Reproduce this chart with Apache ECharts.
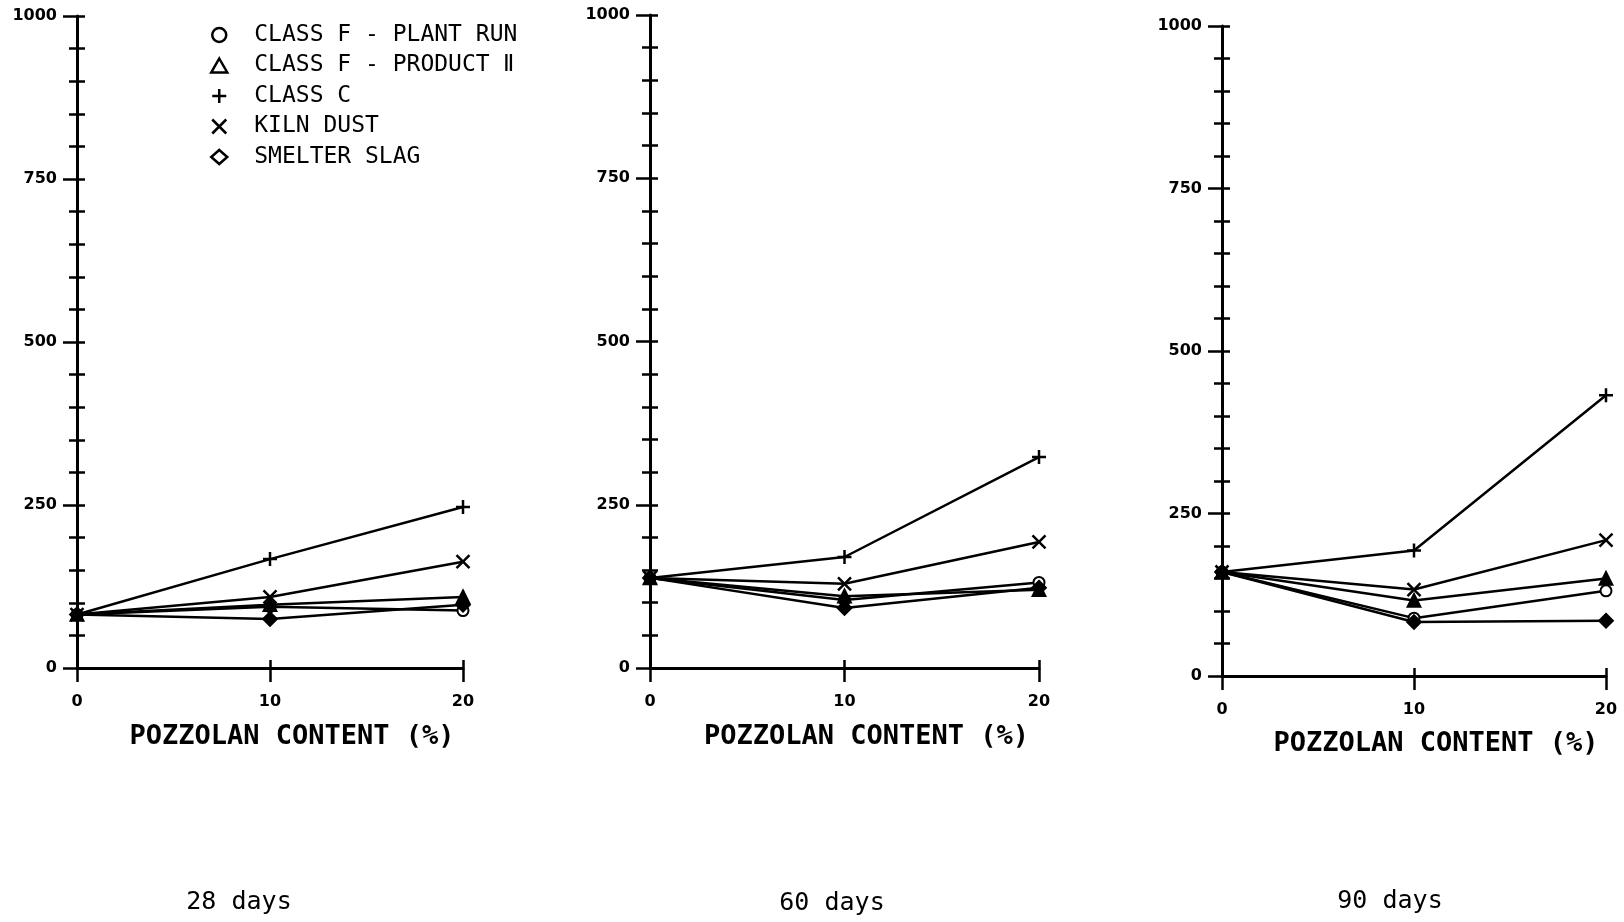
<!DOCTYPE html>
<html>
<head>
<meta charset="utf-8">
<title>Pozzolan content</title>
<script src="https://cdn.jsdelivr.net/npm/echarts@6/dist/echarts.min.js"></script>
<style>
	html, body { margin: 0; padding: 0; background: #fff; }
	#chart { width: 1624px; height: 922px; }
</style>
</head>
<body>
<div id="chart"></div>
<script>
// x ticks / categories: pozzolan content (%)
const pozzolan = [0, 10, 20]
// y tick labels
const yTicks = [0, 250, 500, 750, 1000]

const seriesNames = ['CLASS F - PLANT RUN', 'CLASS F - PRODUCT Ⅱ', 'CLASS C', 'KILN DUST', 'SMELTER SLAG']
const panelTitles = ['28 days', '60 days', '90 days']
const axisTitle = 'POZZOLAN CONTENT (%)'

// 28 days
const plantRun28 = [82, 94, 88]
const product28 = [82, 97, 109]
const classC28 = [82, 167, 247]
const kilnDust28 = [82, 109, 163]
const slag28 = [82, 75, 97]

// 60 days
const plantRun60 = [138, 104, 131]
const product60 = [138, 110, 120]
const classC60 = [138, 170, 323]
const kilnDust60 = [138, 129, 193]
const slag60 = [138, 92, 123]

// 90 days
const plantRun90 = [160, 89, 131]
const product90 = [160, 116, 150]
const classC90 = [160, 193, 432]
const kilnDust90 = [160, 133, 209]
const slag90 = [160, 83, 85]

const panels = [
	[plantRun28, product28, classC28, kilnDust28, slag28],
	[plantRun60, product60, classC60, kilnDust60, slag60],
	[plantRun90, product90, classC90, kilnDust90, slag90],
]

// layout (full-size pixels)
const grids = [
	{ left: 77, top: 16, width: 386, height: 652 },
	{ left: 650, top: 15, width: 389, height: 653 },
	{ left: 1222, top: 26, width: 384, height: 650 },
]
const titlePos = [[239, 902], [832, 903], [1390, 901]]

const MONO = '"DejaVu Sans Mono", "Liberation Mono", monospace'
const SANS = '"DejaVu Sans", "Liberation Sans", sans-serif'
const PLUS = 'path://M5,0L5,10M0,5L10,5'
const CROSS = 'path://M0,0L10,10M10,0L0,10'

const symbols = [
	{ symbol: 'emptyCircle', size: 11 },
	{ symbol: 'triangle', size: 12 },
	{ symbol: PLUS, size: 14 },
	{ symbol: CROSS, size: 13 },
	{ symbol: 'diamond', size: 13 },
]
const legendIcons = ['circle', 'triangle', PLUS, CROSS, 'diamond']

const yMin = yTicks[0]
const yMax = yTicks[yTicks.length - 1]
const yStep = yTicks[1] - yTicks[0]
const xMin = pozzolan[0]
const xMax = pozzolan[pozzolan.length - 1]
const xStep = pozzolan[1] - pozzolan[0]

const tickLabel = { color: '#000', fontFamily: SANS, fontWeight: 'bold', fontSize: 16, formatter: v => String(v) }
const axisLineStyle = { color: '#000', width: 3 }
const tickStyle = { color: '#000', width: 2.5 }

const xAxes = []
const yAxes = []
const series = []

grids.forEach((g, i) => {
	xAxes.push({
		gridIndex: i, type: 'value', position: 'bottom', min: xMin, max: xMax, interval: xStep,
		axisLine: { onZero: false, lineStyle: axisLineStyle },
		axisTick: { length: 14, lineStyle: tickStyle },
		axisLabel: Object.assign({ margin: 26 }, tickLabel),
		splitLine: { show: false },
		name: axisTitle, nameLocation: 'middle', nameGap: i === 2 ? 68 : 69,
		nameTextStyle: { fontFamily: MONO, fontSize: 27, fontWeight: 'bold', color: '#000', verticalAlign: 'middle', padding: [0, 0, 0, 44] },
	})
	xAxes.push({
		gridIndex: i, type: 'value', position: 'bottom', min: xMin, max: xMax, interval: xStep,
		axisLine: { show: false, onZero: false },
		axisTick: { inside: true, length: 8, lineStyle: tickStyle },
		axisLabel: { show: false },
		splitLine: { show: false },
	})
	yAxes.push({
		gridIndex: i, type: 'value', position: 'left', min: yMin, max: yMax, interval: yStep,
		axisLine: { show: true, onZero: false, lineStyle: axisLineStyle },
		axisTick: { show: true, length: 14, lineStyle: tickStyle },
		minorTick: { show: true, splitNumber: 5, length: 8, lineStyle: tickStyle },
		axisLabel: Object.assign({ margin: 20 }, tickLabel),
		splitLine: { show: false },
	})
	yAxes.push({
		gridIndex: i, type: 'value', position: 'left', min: yMin, max: yMax, interval: yStep / 5,
		axisLine: { show: false, onZero: false },
		axisTick: { show: true, inside: true, length: 8, lineStyle: tickStyle },
		axisLabel: { show: false },
		splitLine: { show: false },
	})

	panels[i].forEach((values, k) => {
		series.push({
			name: seriesNames[k],
			type: 'line',
			xAxisIndex: i * 2,
			yAxisIndex: i * 2,
			data: pozzolan.map((x, j) => [x, values[j]]),
			symbol: symbols[k].symbol,
			symbolSize: symbols[k].size,
			showAllSymbol: true,
			lineStyle: { color: '#000', width: 2.5 },
			itemStyle: { color: '#000', borderColor: '#000', borderWidth: 2.5 },
			emphasis: { disabled: true },
			z: 3,
		})
	})
})

const chart = echarts.init(document.getElementById('chart'), null, { renderer: 'canvas' })

chart.setOption({
	animation: false,
	backgroundColor: '#fff',
	title: panelTitles.map((t, i) => ({
		text: t,
		left: titlePos[i][0],
		top: titlePos[i][1],
		textAlign: 'center',
		textVerticalAlign: 'middle',
		padding: 0,
		textStyle: { fontFamily: MONO, fontSize: 25, fontWeight: 'normal', color: '#000' },
	})),
	legend: {
		orient: 'vertical',
		left: 205,
		top: 18,
		itemWidth: 16,
		itemHeight: 14,
		itemGap: 6.5,
		selectedMode: false,
		textStyle: { fontFamily: MONO, fontSize: 23, color: '#000', lineHeight: 24, padding: [0, 0, 0, 22] },
		data: seriesNames.map((n, k) => ({
			name: n,
			icon: legendIcons[k],
			itemStyle: { color: k >= 2 && k <= 3 ? '#000' : '#fff', borderColor: '#000', borderWidth: 2.5 },
		})),
	},
	grid: grids.map(g => Object.assign({ containLabel: false, outerBoundsMode: 'none' }, g)),
	xAxis: xAxes,
	yAxis: yAxes,
	series: series,
})
</script>
</body>
</html>
